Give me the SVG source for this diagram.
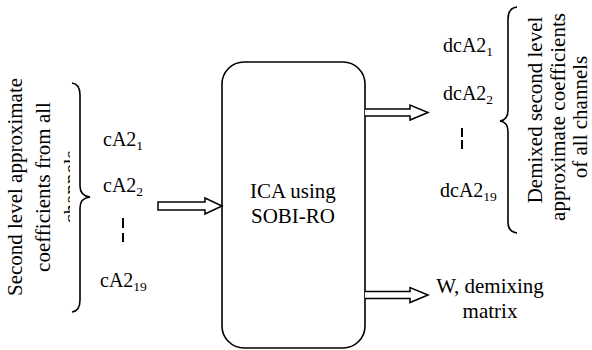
<svg xmlns="http://www.w3.org/2000/svg" width="592" height="350" viewBox="0 0 592 350">
<style>
text{font-family:'Liberation Serif','Times New Roman',serif;fill:#000}
.big{font-size:21px}
.lbl{font-size:20px}
.sub{font-size:13.5px}
.ln{fill:none;stroke:#000;stroke-width:1.6}
.arr{fill:#fff;stroke:#000;stroke-width:1.5;stroke-linejoin:miter}
.dash{stroke:#000;stroke-width:2}
</style>
<defs>
<clipPath id="clipL"><rect x="0" y="0" width="70" height="350"/></clipPath>
</defs>
<g id="input-text" clip-path="url(#clipL)">
<text class="big" text-anchor="middle" transform="translate(22,187) rotate(-90)">Second level approximate</text>
<text class="big" text-anchor="middle" transform="translate(50,187) rotate(-90)">coefficients from all</text>
<text class="big" text-anchor="middle" transform="translate(78,187) rotate(-90)">channels</text>
</g>
<g id="input-brace">
<path class="ln" d="M72,83 Q80,84 80,95 V186 Q80,196 90,197 Q80,198 80,208 V300 Q80,311 72,312"/>
</g>
<g id="input-labels">
<text class="lbl" x="103" y="146">cA2<tspan class="sub" dy="4">1</tspan></text>
<text class="lbl" x="103" y="192">cA2<tspan class="sub" dy="4">2</tspan></text>
<line class="dash" x1="123" y1="218" x2="123" y2="228"/>
<line class="dash" x1="123" y1="233" x2="123" y2="242"/>
<text class="lbl" x="100" y="287">cA2<tspan class="sub" dy="4">19</tspan></text>
</g>
<g id="ica">
<rect class="ln" x="222" y="62" width="143" height="286" rx="22"/>
<text class="big" x="293" y="198" text-anchor="middle">ICA using</text>
<text class="big" x="293" y="223" text-anchor="middle">SOBI-RO</text>
</g>
<g id="connectors">
<path class="arr" d="M158,202 H205 V198 L222,206 L205,214 V210 H158 Z"/>
<path class="arr" d="M365,109 H410 V105 L428,112.5 L410,120 V116 H365"/>
<path class="arr" d="M365,291.5 H410 V287.5 L428,295 L410,302.5 V298.5 H365"/>
</g>
<g id="output-labels">
<text class="lbl" x="443" y="52">dcA2<tspan class="sub" dy="4">1</tspan></text>
<text class="lbl" x="443" y="100">dcA2<tspan class="sub" dy="4">2</tspan></text>
<line class="dash" x1="462" y1="128" x2="462" y2="137"/>
<line class="dash" x1="462" y1="140" x2="462" y2="149"/>
<text class="lbl" x="440" y="197">dcA2<tspan class="sub" dy="4">19</tspan></text>
</g>
<g id="output-brace">
<path class="ln" d="M517,7 Q508,8 508,19 V110 Q508,120 500,121 Q508,122 508,132 V222 Q508,232 517,233"/>
</g>
<g id="output-text">
<text class="big" text-anchor="middle" transform="translate(542,110) rotate(-90)">Demixed second level</text>
<text class="big" text-anchor="middle" transform="translate(565,117) rotate(-90)">approximate coefficients</text>
<text class="big" text-anchor="middle" transform="translate(587,117) rotate(-90)">of all channels</text>
</g>
<g id="w-output">
<text class="big" x="490" y="293" text-anchor="middle">W, demixing</text>
<text class="big" x="490" y="318" text-anchor="middle">matrix</text>
</g>
</svg>
